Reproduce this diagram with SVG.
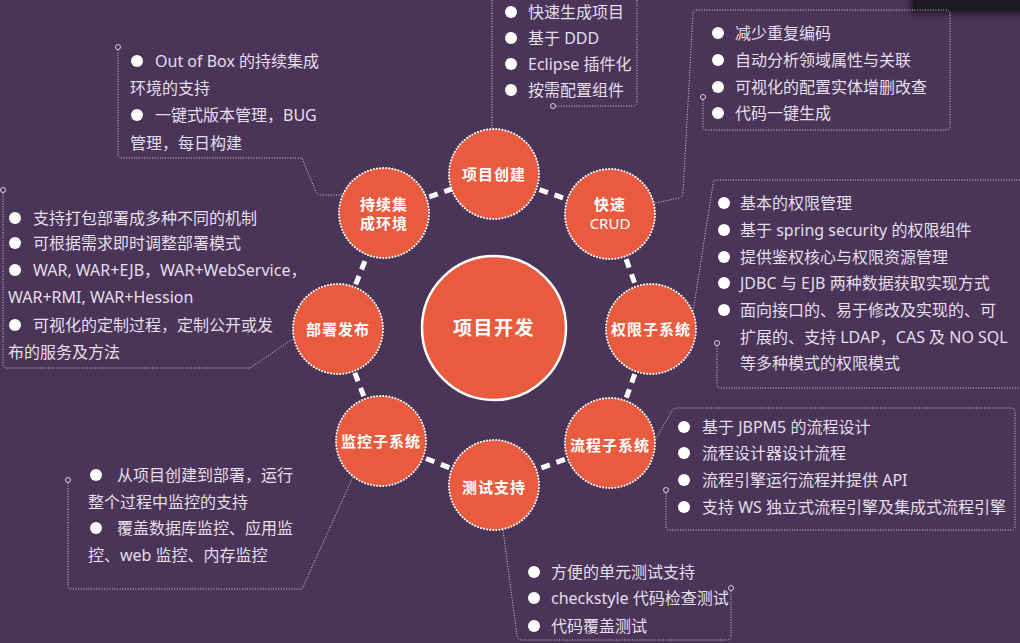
<svg xmlns="http://www.w3.org/2000/svg" width="1020" height="643" viewBox="0 0 1020 643">
<defs>
<style>
.bg{fill:#4a3558}
.sat{fill:#e85b3e;stroke:#ffffff;stroke-width:2;stroke-dasharray:0.1 3;stroke-linecap:round}
.hub{fill:#e85b3e;stroke:#ffffff;stroke-width:2.5}
.ring{stroke:#ffffff;stroke-width:5;stroke-dasharray:9 7;fill:none}
.lead{fill:none;stroke:#d6cee0;stroke-width:1;stroke-dasharray:1 1.6}
.mk{fill:none;stroke:#d6cee0;stroke-width:1}
.lbl{font-family:"Noto Sans","Noto Sans CJK SC",sans-serif;font-size:15px;font-weight:bold;fill:#ffffff;text-anchor:middle;letter-spacing:1px}
.lbl2{font-family:"Noto Sans","Noto Sans CJK SC",sans-serif;font-size:15px;fill:#ffffff;text-anchor:middle}
.hubt{font-family:"Noto Sans","Noto Sans CJK SC",sans-serif;font-size:19px;font-weight:bold;fill:#ffffff;text-anchor:middle;letter-spacing:1.5px}
.t{font-family:"Noto Sans","Noto Sans CJK SC",sans-serif;font-size:16px;fill:#e4dfe9}
.b{fill:#ffffff}
</style>
<filter id="sh" x="-20%" y="-50%" width="140%" height="250%"><feGaussianBlur stdDeviation="3"/></filter>
</defs>
<rect class="bg" x="0" y="0" width="1020" height="643"/>
<rect x="910" y="-12" width="116" height="26" rx="4" fill="#000" opacity="0.5" filter="url(#sh)"/>
<rect x="913" y="-10" width="110" height="21" rx="4" fill="#1d1921"/>

<g id="connectors">
<line class="ring" x1="494" y1="174" x2="610" y2="214"/>
<line class="ring" x1="610" y1="214" x2="651" y2="329"/>
<line class="ring" x1="651" y1="329" x2="610" y2="443"/>
<line class="ring" x1="610" y1="443" x2="494" y2="485"/>
<line class="ring" x1="494" y1="485" x2="381" y2="441"/>
<line class="ring" x1="381" y1="441" x2="338" y2="329"/>
<line class="ring" x1="338" y1="329" x2="384" y2="213"/>
<line class="ring" x1="384" y1="213" x2="494" y2="174"/>
<path class="lead" d="M118,50 V154 Q118,158 122,158 H302 L316,192 Q317,195 321,195 H342"/>
<circle class="mk" cx="118" cy="47" r="2.5"/>
<path class="lead" d="M492,0 V129"/>
<path class="lead" d="M637,0 V102 Q637,106 633,106 H556"/>
<circle class="mk" cx="553" cy="106" r="2.5"/>
<path class="lead" d="M703,100 V126 Q703,130 707,130 H946 Q950,130 950,126 V14 Q950,10 946,10 H697 Q693,10 693,14 L683,193 Q683,197 679,198 L655,203"/>
<circle class="mk" cx="703" cy="97" r="2.5"/>
<path class="lead" d="M717,346 V384 Q717,388 721,388 H1020"/>
<path class="lead" d="M1020,180 H717 Q713,180 713,184 L693,312"/>
<circle class="mk" cx="717" cy="343" r="2.5"/>
<path class="lead" d="M3,193 V364 Q3,368 7,368 H250 L294,338"/>
<circle class="mk" cx="3" cy="190" r="2.5"/>
<path class="lead" d="M68,483 V585 Q68,589 72,589 H302 L353,477"/>
<circle class="mk" cx="68" cy="480" r="2.5"/>
<path class="lead" d="M666,493 V526 Q666,530 670,530 H1011 Q1015,530 1015,526 V412 Q1015,408 1011,408 H677 Q673,408 672,411 L655,440"/>
<circle class="mk" cx="666" cy="490" r="2.5"/>
<path class="lead" d="M503,530 L517,636 Q518,640 522,640 H727 Q731,640 731,636 V591"/>
<circle class="mk" cx="731" cy="588" r="2.5"/>
</g>

<g id="hub">
<circle class="hub" cx="494" cy="328" r="72"/>
<text class="hubt" x="494" y="335">项目开发</text>
</g>
<g id="node-create">
<circle class="sat" cx="494" cy="174" r="45"/>
<text class="lbl" x="494" y="180">项目创建</text>
</g>
<g id="node-crud">
<circle class="sat" cx="610" cy="214" r="45"/>
<text class="lbl" x="610" y="210">快速</text>
<text class="lbl2" x="610" y="229">CRUD</text>
</g>
<g id="node-auth">
<circle class="sat" cx="651" cy="329" r="45"/>
<text class="lbl" x="651" y="335">权限子系统</text>
</g>
<g id="node-flow">
<circle class="sat" cx="610" cy="443" r="45"/>
<text class="lbl" x="610" y="451">流程子系统</text>
</g>
<g id="node-test">
<circle class="sat" cx="494" cy="485" r="45"/>
<text class="lbl" x="494" y="493">测试支持</text>
</g>
<g id="node-monitor">
<circle class="sat" cx="381" cy="441" r="45"/>
<text class="lbl" x="381" y="447">监控子系统</text>
</g>
<g id="node-deploy">
<circle class="sat" cx="338" cy="329" r="45"/>
<text class="lbl" x="338" y="335">部署发布</text>
</g>
<g id="node-ci">
<circle class="sat" cx="384" cy="213" r="45"/>
<text class="lbl" x="384" y="210">持续集</text>
<text class="lbl" x="384" y="229">成环境</text>
</g>

<g id="info-ci">
<circle class="b" cx="137" cy="61" r="6"/>
<circle class="b" cx="137" cy="115" r="6"/>
<text class="t" x="155" y="67">Out of Box 的持续集成</text>
<text class="t" x="130" y="94">环境的支持</text>
<text class="t" x="155" y="121">一键式版本管理，BUG</text>
<text class="t" x="130" y="149">管理，每日构建</text>
</g>
<g id="info-create">
<circle class="b" cx="511" cy="12" r="6"/>
<circle class="b" cx="511" cy="38" r="6"/>
<circle class="b" cx="511" cy="64" r="6"/>
<circle class="b" cx="511" cy="90" r="6"/>
<text class="t" x="528" y="18">快速生成项目</text>
<text class="t" x="528" y="44">基于 DDD</text>
<text class="t" x="528" y="70">Eclipse 插件化</text>
<text class="t" x="528" y="96">按需配置组件</text>
</g>
<g id="info-crud">
<circle class="b" cx="718" cy="33" r="6"/>
<circle class="b" cx="718" cy="60" r="6"/>
<circle class="b" cx="718" cy="87" r="6"/>
<circle class="b" cx="718" cy="113" r="6"/>
<text class="t" x="735" y="39">减少重复编码</text>
<text class="t" x="735" y="66">自动分析领域属性与关联</text>
<text class="t" x="735" y="93">可视化的配置实体增删改查</text>
<text class="t" x="735" y="119">代码一键生成</text>
</g>
<g id="info-auth">
<circle class="b" cx="724" cy="203" r="6"/>
<circle class="b" cx="724" cy="230" r="6"/>
<circle class="b" cx="724" cy="257" r="6"/>
<circle class="b" cx="724" cy="283" r="6"/>
<circle class="b" cx="724" cy="310" r="6"/>
<text class="t" x="740" y="209">基本的权限管理</text>
<text class="t" x="740" y="236">基于 spring security 的权限组件</text>
<text class="t" x="740" y="263">提供鉴权核心与权限资源管理</text>
<text class="t" x="740" y="289">JDBC 与 EJB 两种数据获取实现方式</text>
<text class="t" x="740" y="316">面向接口的、易于修改及实现的、可</text>
<text class="t" x="740" y="343">扩展的、支持 LDAP，CAS 及 NO SQL</text>
<text class="t" x="740" y="369">等多种模式的权限模式</text>
</g>
<g id="info-deploy">
<circle class="b" cx="15" cy="218" r="6"/>
<circle class="b" cx="15" cy="243" r="6"/>
<circle class="b" cx="15" cy="270" r="6"/>
<circle class="b" cx="15" cy="325" r="6"/>
<text class="t" x="33" y="224">支持打包部署成多种不同的机制</text>
<text class="t" x="33" y="249">可根据需求即时调整部署模式</text>
<text class="t" x="33" y="276">WAR, WAR+EJB，WAR+WebService，</text>
<text class="t" x="8" y="303">WAR+RMI, WAR+Hession</text>
<text class="t" x="33" y="331">可视化的定制过程，定制公开或发</text>
<text class="t" x="8" y="358">布的服务及方法</text>
</g>
<g id="info-monitor">
<circle class="b" cx="96" cy="475" r="6"/>
<circle class="b" cx="96" cy="528" r="6"/>
<text class="t" x="117" y="481">从项目创建到部署，运行</text>
<text class="t" x="88" y="508">整个过程中监控的支持</text>
<text class="t" x="117" y="534">覆盖数据库监控、应用监</text>
<text class="t" x="88" y="561">控、web 监控、内存监控</text>
</g>
<g id="info-flow">
<circle class="b" cx="684" cy="427" r="6"/>
<circle class="b" cx="684" cy="453" r="6"/>
<circle class="b" cx="684" cy="480" r="6"/>
<circle class="b" cx="684" cy="507" r="6"/>
<text class="t" x="702" y="433">基于 JBPM5 的流程设计</text>
<text class="t" x="702" y="459">流程设计器设计流程</text>
<text class="t" x="702" y="486">流程引擎运行流程并提供 API</text>
<text class="t" x="702" y="513">支持 WS 独立式流程引擎及集成式流程引擎</text>
</g>
<g id="info-test">
<circle class="b" cx="534" cy="572" r="6"/>
<circle class="b" cx="534" cy="598" r="6"/>
<circle class="b" cx="534" cy="626" r="6"/>
<text class="t" x="551" y="578">方便的单元测试支持</text>
<text class="t" x="551" y="604">checkstyle 代码检查测试</text>
<text class="t" x="551" y="632">代码覆盖测试</text>
</g>
</svg>
